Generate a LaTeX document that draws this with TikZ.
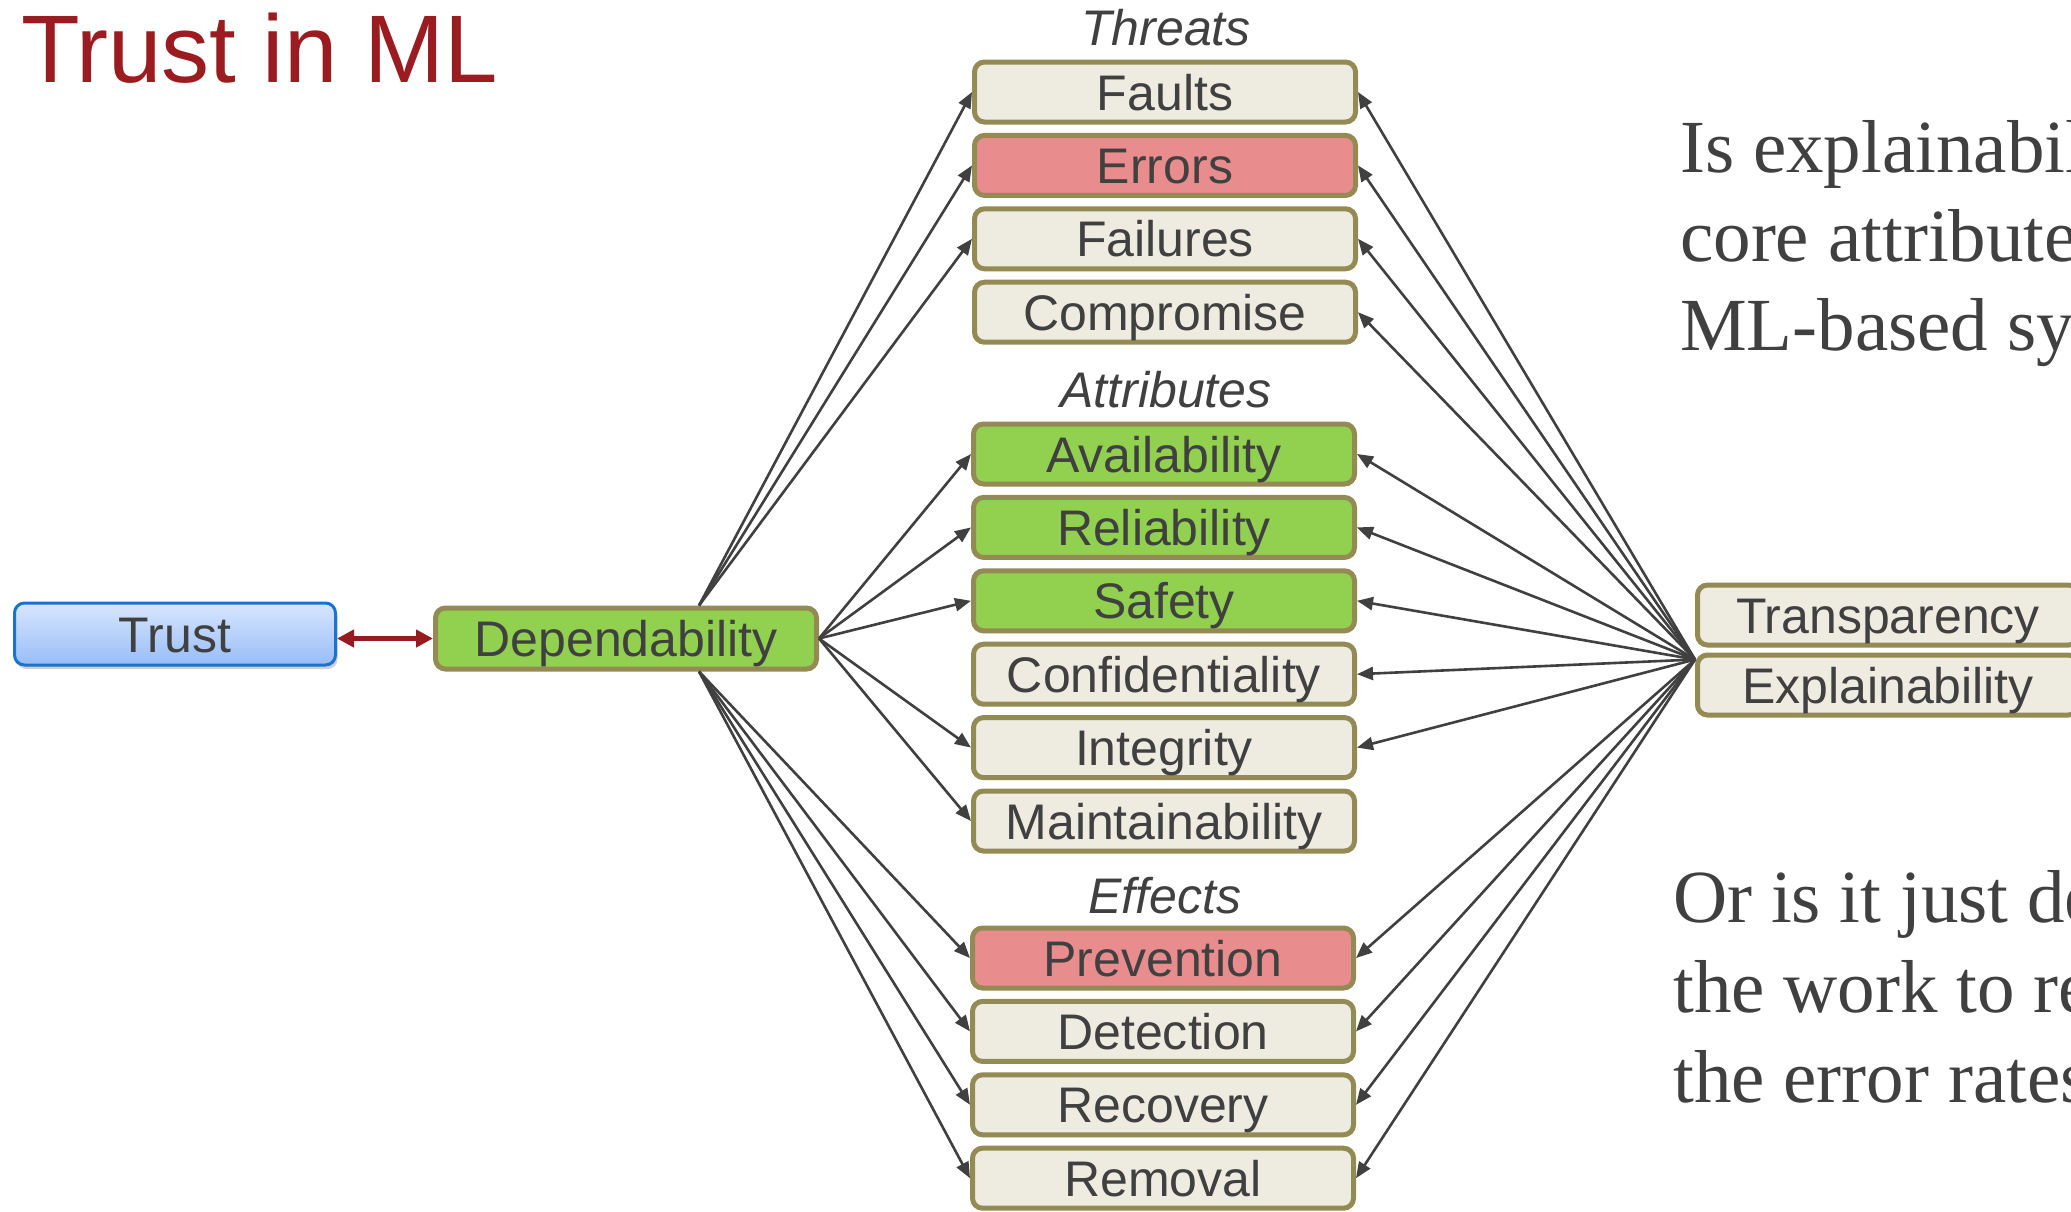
\documentclass[tikz,border=0pt]{standalone}
\usepackage{fontspec}
\setmainfont{Liberation Sans}
\newfontfamily\questionface{Liberation Serif}
\usetikzlibrary{arrows.meta,shadows}

\definecolor{ink}{HTML}{404040}
\definecolor{olive}{HTML}{948A54}
\definecolor{tan}{HTML}{EEECE1}
\definecolor{leaf}{HTML}{92D050}
\definecolor{rose}{HTML}{E98C8D}
\definecolor{titlered}{HTML}{9B1C20}
\definecolor{linkred}{HTML}{961B1E}
\definecolor{skyline}{HTML}{1A73CF}
\definecolor{skytop}{HTML}{D8E6FD}
\definecolor{skybottom}{HTML}{97BDF8}

\begin{document}
\begin{tikzpicture}[x=1pt,y=-1pt,
  box/.style={draw=olive, line width=5pt, rounded corners=10pt, fill=tan,
    minimum width=381pt, minimum height=60pt, inner sep=0pt, text=ink,
    font=\fontsize{50}{60}\selectfont, text height=36pt, text depth=0pt},
  greenbox/.style={box, fill=leaf},
  rosebox/.style={box, fill=rose},
  catlabel/.style={anchor=base, inner sep=0pt, text=ink,
    font=\fontsize{50}{60}\selectfont\itshape},
  trustbox/.style={draw=skyline, line width=3pt, rounded corners=10pt,
    top color=skytop, bottom color=skybottom,
    minimum width=321pt, minimum height=62pt, inner sep=0pt, text=ink,
    font=\fontsize{50}{60}\selectfont, text height=36pt, text depth=0pt,
    drop shadow={shadow xshift=2pt, shadow yshift=-4pt, opacity=0.3, fill=black!60}},
  depbox/.style={box, fill=leaf, minimum height=61pt},
  link/.style={draw=ink, line width=2.6pt, -{Triangle[length=16pt,width=13pt]}},
  redlink/.style={draw=linkred, line width=4.5pt,
    {Triangle[length=17pt,width=17pt]}-{Triangle[length=17pt,width=17pt]}},
  question/.style={anchor=base west, inner sep=0pt, text=ink,
    font=\questionface\fontsize{75}{89}\selectfont}]

\path[use as bounding box, fill=white] (0,0) rectangle (2071,1211);

% title
\node[anchor=base west, inner sep=0pt, text=titlered,
      font=\fontsize{96}{110}\selectfont] (title) at (21,82) {Trust in ML};

% left part
\node[trustbox] (trust) at (175,634) {Trust};
\node[depbox] (dep) at (626,638.5) {Dependability};

% threats
\node[catlabel] (lthreats) at (1166,45) {Threats};
\node[box]     (faults)  at (1165,92)    {Faults};
\node[rosebox] (errors)  at (1165,165.4) {Errors};
\node[box]     (failures) at (1165,238.8) {Failures};
\node[box]     (comprom) at (1165,312.2) {Compromise};

% attributes
\node[catlabel] (lattrib) at (1166,407) {Attributes};
\node[greenbox] (avail) at (1164,454)   {Availability};
\node[greenbox] (relia) at (1164,527.4) {Reliability};
\node[greenbox] (safety) at (1164,600.8) {Safety};
\node[box]      (confid) at (1164,674.2) {Confidentiality};
\node[box]      (integ) at (1164,747.6) {Integrity};
\node[box]      (maint) at (1164,821)   {Maintainability};

% effects
\node[catlabel] (leffects) at (1165,913) {Effects};
\node[rosebox] (prevent) at (1163,958)    {Prevention};
\node[box]     (detect)  at (1163,1031.4) {Detection};
\node[box]     (recover) at (1163,1104.8) {Recovery};
\node[box]     (removal) at (1163,1178.2) {Removal};

% right-hand pair
\node[box] (transp) at (1888,615) {Transparency};
\node[box] (expl)   at (1888,685) {Explainability};

% questions
\node[question] (q1a) at (1680,172) {Is explainabil};
\node[question] (q1b) at (1680,261) {core attribute};
\node[question] (q1c) at (1680,350) {ML-based sy};
\node[question] (q2a) at (1673,922) {Or is it just de};
\node[question] (q2b) at (1673,1012) {the work to re};
\node[question] (q2c) at (1673,1102) {the error rates};

% connector origins
\coordinate (dtop) at ([xshift=73pt]dep.north);
\coordinate (dbot) at ([xshift=73pt]dep.south);
\coordinate (hub)  at ([yshift=-7pt]expl.north west);

% trust <-> dependability
\draw[redlink] (trust.east |- dep.west) -- (dep.west);

% dependability fan-out
\foreach \t in {faults,errors,failures}
  \draw[link] (dtop) -- (\t.west);
\foreach \t in {avail,relia,safety,integ,maint}
  \draw[link] (dep.east) -- (\t.west);
\foreach \t in {prevent,detect,recover,removal}
  \draw[link] (dbot) -- (\t.west);

% explainability fan-out
\foreach \t in {faults,errors,failures,comprom,avail,relia,safety,confid,integ,prevent,detect,recover,removal}
  \draw[link] (hub) -- (\t.east);

\end{tikzpicture}
\end{document}
